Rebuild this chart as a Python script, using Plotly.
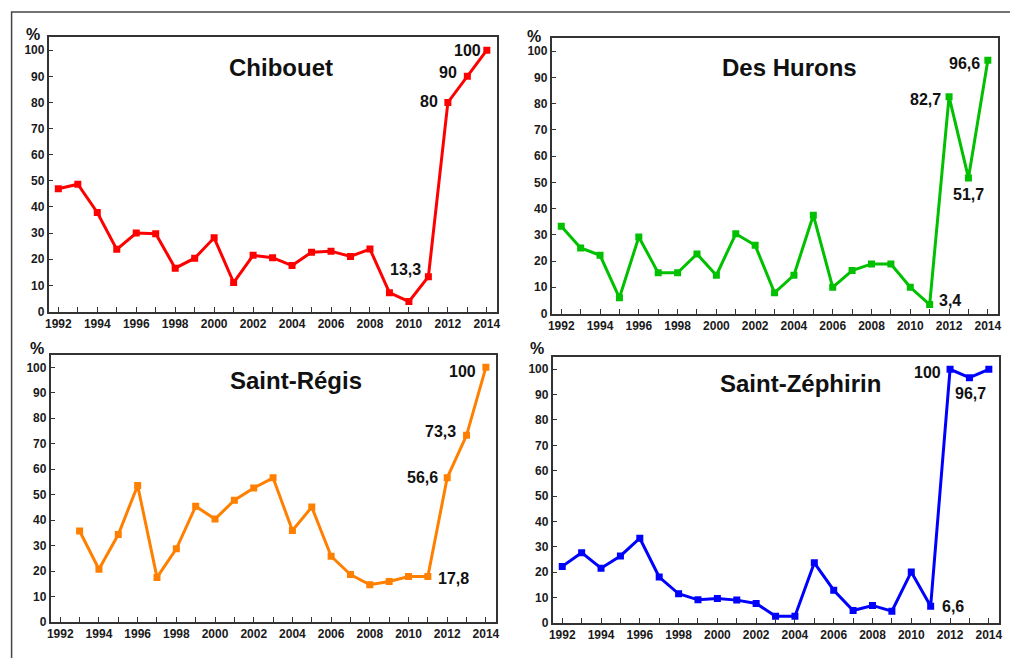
import plotly.graph_objects as go

# ---------------- data ----------------
years = list(range(1992, 2015))
chibouet = [47.0, 48.7, 37.9, 23.8, 30.0, 29.8, 16.6, 20.4, 28.2, 11.1, 21.5, 20.6,
            17.6, 22.7, 23.1, 21.1, 23.9, 7.2, 3.8, 13.3, 80, 90, 100]
des_hurons = [33.3, 25.0, 22.2, 6.0, 29.2, 15.5, 15.5, 22.7, 14.6, 30.4, 26.0, 7.9,
              14.6, 37.5, 10.0, 16.4, 18.9, 18.9, 10.0, 3.4, 82.7, 51.7, 96.6]
saint_regis = [None, 35.7, 20.7, 34.3, 53.6, 17.5, 28.7, 45.4, 40.4, 47.8, 52.6, 56.6,
               35.9, 45.1, 25.8, 18.6, 14.6, 15.9, 17.8, 17.8, 56.6, 73.3, 100]
saint_zephirin = [22.3, 27.7, 21.6, 26.4, 33.4, 18.1, 11.5, 9.1, 9.6, 9.0, 7.7, 2.6,
                  2.6, 23.7, 12.9, 4.9, 6.9, 4.6, 20.1, 6.6, 100, 96.7, 100]

names = ["Chibouet", "Des Hurons", "Saint-Régis", "Saint-Zéphirin"]
series = [chibouet, des_hurons, saint_regis, saint_zephirin]
labelled_years = [[2011, 2012, 2013, 2014],
                  [2011, 2012, 2013, 2014],
                  [2011, 2012, 2013, 2014],
                  [2011, 2012, 2013]]
y_ticks = list(range(0, 101, 10))
x_tick_labels = [str(y) if y % 2 == 0 else "" for y in years]

# ---------------- styles / layout ----------------
W, H = 1018, 658
# compensation for page offset / scaling of the screenshot
SX, SY, DX, DY = 0.9922, 0.988, 11.5, 8.0
colors = ["#ff0000", "#00c000", "#ff8000", "#0000ff"]
# plot boxes in target pixels: left, right, top, bottom
boxes = [(48, 496, 37, 311), (551, 997, 38, 313),
         (50, 495, 354, 621), (552, 998, 356, 622)]
title_pos = [(280, 67), (789, 67), (295, 380), (800, 383)]
pct_pos = [(32, 34), (533, 36), (36, 348), (536, 348)]
# label placement per labelled point: (xanchor, xshift, yshift)
label_place = [
    [("right", -5, 7), ("right", -8, 1), ("right", -8, 4), ("right", -4, 0)],
    [("left", 7, 4), ("right", -6, -3), ("center", 0, -17), ("right", -6, -3)],
    [("left", 8, -2), ("right", -7, 0), ("right", -9, 4), ("right", -8, -4)],
    [("left", 9, 0), ("right", -7, -3), ("center", 1, -16)],
]

FONT = "Liberation Sans, Arial, sans-serif"


def px(x):
    return (x / SX - DX) / W


def py(y):
    return 1 - (y / SY - DY) / H


def fmt(v):
    if float(v).is_integer():
        return str(int(v))
    return ("%.1f" % v).replace(".", ",")


fig = go.Figure()
annotations = []
layout_axes = {}

for i, (name, vals) in enumerate(zip(names, series)):
    n = "" if i == 0 else str(i + 1)
    xa, ya = "x" + n, "y" + n
    l, r, t, b = boxes[i]
    fig.add_trace(go.Scatter(
        x=years, y=vals, xaxis=xa, yaxis=ya, mode="lines+markers",
        line=dict(color=colors[i], width=3),
        marker=dict(symbol="square", size=7, color=colors[i]),
        connectgaps=False, showlegend=False, hoverinfo="x+y"))
    axis_common = dict(showline=True, mirror=True, linecolor="#333", linewidth=1.5,
                       ticks="inside", ticklen=5, tickwidth=1.2, tickcolor="#333",
                       showgrid=False, zeroline=False,
                       tickfont=dict(family=FONT, size=12, color="#1a1a1a", weight="bold"))
    layout_axes["xaxis" + n] = dict(domain=[px(l), px(r)], range=[1991.5, 2014.5],
                                    anchor=ya, tickvals=years, ticktext=x_tick_labels,
                                    **axis_common)
    layout_axes["yaxis" + n] = dict(domain=[py(b), py(t)], range=[0, 105],
                                    anchor=xa, tickvals=y_ticks, **axis_common)
    # title
    tx, ty = title_pos[i]
    annotations.append(dict(x=px(tx), y=py(ty), xref="paper", yref="paper",
                            text=name, showarrow=False, xanchor="center", yanchor="middle",
                            font=dict(family=FONT, size=24, color="#111", weight="bold")))
    p_x, p_y = pct_pos[i]
    annotations.append(dict(x=px(p_x), y=py(p_y), xref="paper", yref="paper",
                            text="%", showarrow=False, xanchor="center", yanchor="middle",
                            font=dict(family=FONT, size=16, color="#111", weight="bold")))
    # value labels
    for yr, (anc, xs, ys) in zip(labelled_years[i], label_place[i]):
        v = vals[years.index(yr)]
        annotations.append(dict(x=yr, y=v, xref=xa, yref=ya, text=fmt(v), showarrow=False,
                                xanchor=anc, yanchor="middle", xshift=xs, yshift=ys,
                                font=dict(family=FONT, size=16, color="#111", weight="bold")))

# outer frame (top and left edge visible)
shapes = [dict(type="rect", xref="paper", yref="paper", x0=px(11), x1=1.05,
               y0=-0.05, y1=py(12), line=dict(color="#444", width=1.5))]

fig.update_layout(width=W, height=H, margin=dict(l=0, r=0, t=0, b=0),
                  paper_bgcolor="white", plot_bgcolor="white",
                  annotations=annotations, shapes=shapes, **layout_axes)

fig.write_html("out.html")
